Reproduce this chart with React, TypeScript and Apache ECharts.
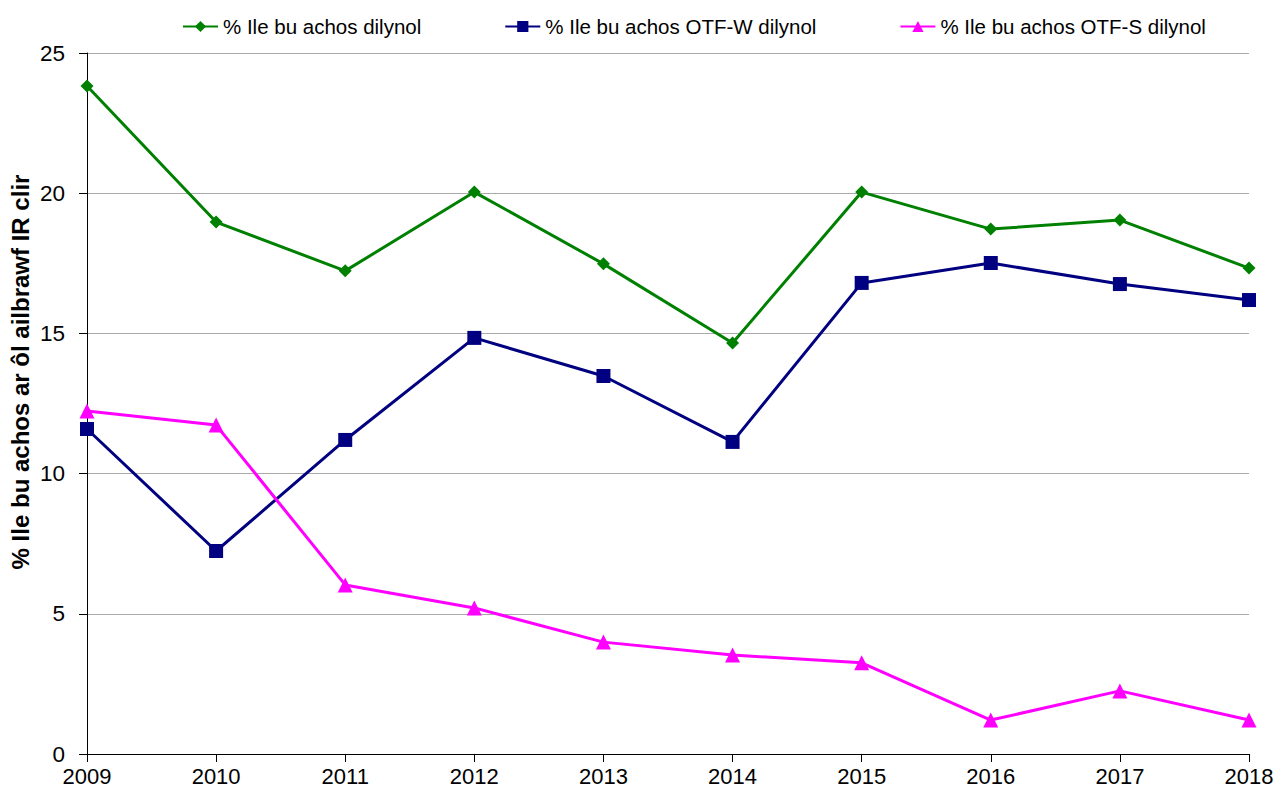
import React, { useEffect, useRef } from "react";
import * as echarts from "echarts";

const years = ["2009", "2010", "2011", "2012", "2013", "2014", "2015", "2016", "2017", "2018"];
const seriesNames = [
  "% Ile bu achos dilynol",
  "% Ile bu achos OTF-W dilynol",
  "% Ile bu achos OTF-S dilynol",
];
const yTitle = "% Ile bu achos ar ôl ailbrawf IR clir";
const allCases = [23.82, 18.97, 17.23, 20.04, 17.48, 14.66, 20.04, 18.72, 19.04, 17.33];
const otfW = [11.59, 7.24, 11.2, 14.84, 13.48, 11.13, 16.8, 17.51, 16.76, 16.19];
const otfS = [12.23, 11.73, 6.03, 5.21, 3.99, 3.53, 3.25, 1.21, 2.25, 1.21];

const FONT = "Liberation Sans, Arial, sans-serif";

export default function App() {
  const ref = useRef<HTMLDivElement>(null);
  useEffect(() => {
    if (!ref.current) return;
    const chart = echarts.init(ref.current, undefined, { renderer: "svg" });
    chart.setOption({
      animation: false,
      backgroundColor: "#ffffff",
      textStyle: { fontFamily: FONT },
      legend: {
        top: 11,
        left: 177,
        itemWidth: 35,
        itemHeight: 14,
        itemGap: 83,
        textStyle: { fontSize: 20.5, color: "#000", fontFamily: FONT },
        data: seriesNames,
      },
      graphic: [
        {
          type: "text",
          x: 20,
          y: 372,
          rotation: Math.PI / 2,
          style: {
            text: yTitle,
            align: "center",
            verticalAlign: "middle",
            fontSize: 24,
            fontWeight: "bold",
            fontFamily: FONT,
            fill: "#000",
          },
        },
      ],
      grid: { left: 87, right: 39, top: 53, bottom: 39, containLabel: false },
      xAxis: {
        type: "category",
        data: years,
        boundaryGap: false,
        axisLine: { lineStyle: { color: "#000", width: 1 } },
        axisTick: { show: true, length: 8, alignWithLabel: true, lineStyle: { color: "#000" } },
        axisLabel: { fontSize: 22, color: "#000", margin: 11, fontFamily: FONT },
        splitLine: { show: false },
      },
      yAxis: {
        type: "value",
        min: 0,
        max: 25,
        interval: 5,
        axisLine: { show: true, lineStyle: { color: "#000", width: 1 } },
        axisTick: { show: true, length: 8, lineStyle: { color: "#000" } },
        axisLabel: { fontSize: 22.5, color: "#000", margin: 22, fontFamily: FONT },
        splitLine: { show: true, lineStyle: { color: "#aaaaaa", width: 1 } },
      },
      series: [
        {
          name: seriesNames[0],
          type: "line",
          data: allCases,
          symbol: "diamond",
          symbolSize: 13,
          lineStyle: { color: "#008000", width: 3 },
          itemStyle: { color: "#008000" },
        },
        {
          name: seriesNames[1],
          type: "line",
          data: otfW,
          symbol: "rect",
          symbolSize: 14,
          lineStyle: { color: "#000080", width: 3 },
          itemStyle: { color: "#000080" },
        },
        {
          name: seriesNames[2],
          type: "line",
          data: otfS,
          symbol: "triangle",
          symbolSize: 15,
          lineStyle: { color: "#ff00ff", width: 3 },
          itemStyle: { color: "#ff00ff" },
        },
      ],
    });
    return () => chart.dispose();
  }, []);
  return (
    <div
      ref={ref}
      style={{ position: "fixed", left: 0, top: 0, width: 1288, height: 793 }}
    />
  );
}
